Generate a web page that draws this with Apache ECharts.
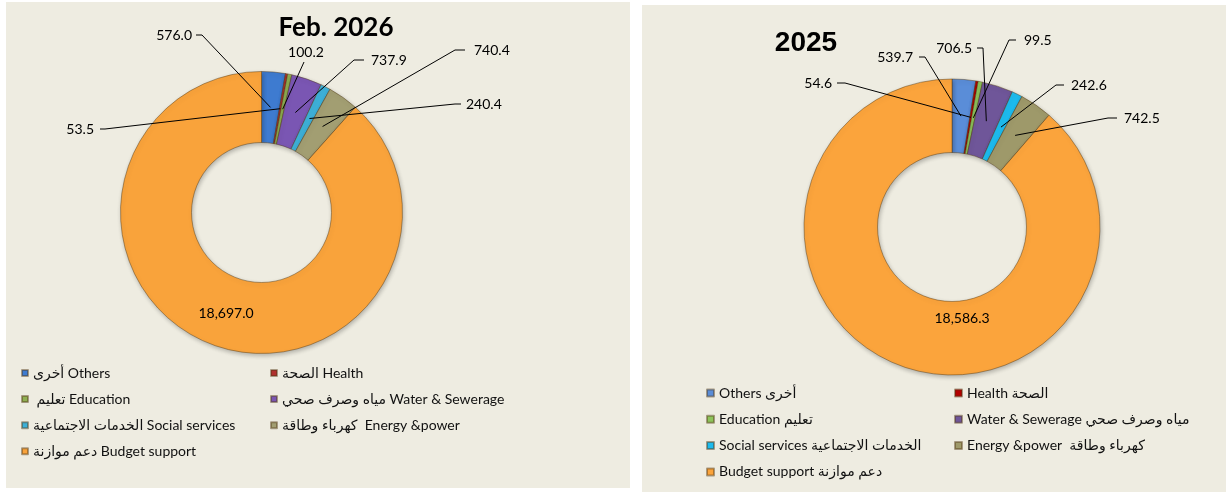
<!DOCTYPE html>
<html>
<head>
<meta charset="utf-8">
<script src="https://cdn.jsdelivr.net/npm/echarts@6/dist/echarts.min.js"></script>
<style>
  html, body { margin: 0; padding: 0; background: #ffffff; }
  #chart { width: 1226px; height: 492px; }
</style>
</head>
<body>
<div id="chart"></div>
<script>
// Spending sectors, in clockwise order starting at 12 o'clock
const namesFeb2026 = [
  'أخرى Others',
  'الصحة Health',
  ' تعليم Education',
  'مياه وصرف صحي Water & Sewerage',
  'الخدمات الاجتماعية Social services',
  'كهرباء وطاقة  Energy &power',
  'دعم موازنة Budget support'
];
const names2025 = [
  'Others أخرى',
  'Health الصحة',
  'Education تعليم',
  'Water & Sewerage مياه وصرف صحي',
  'Social services الخدمات الاجتماعية',
  'Energy &power  كهرباء وطاقة',
  'Budget support دعم موازنة'
];
const valuesFeb2026 = [576.0, 53.5, 100.2, 737.9, 240.4, 740.4, 18697.0];
const values2025 = [539.7, 54.6, 99.5, 706.5, 242.6, 742.5, 18586.3];
const titleFeb2026 = 'Feb. 2026';
const title2025 = '2025';

// Slice colours
const coloursFeb2026 = ['#3E7BD0', '#B0302E', '#8FAF52', '#7A56B3', '#3DB0D8', '#A29E72', '#F9A33B'];
const colours2025 = ['#5A8DD8', '#B40000', '#8EC45C', '#6F5699', '#1DBBEE', '#9E996A', '#FBA43C'];

// Ring geometry (px)
const ringFeb2026 = { cx: 261.5, cy: 212.5, r0: 70, r: 141 };
const ring2025 = { cx: 952, cy: 227, r0: 74.5, r: 148 };

// Callout placement: label anchor and the elbow of each leader line
const calloutsFeb2026 = [
  { x: 192, y: 35, align: 'right', bend: [[202, 35], [196, 35]] },
  { x: 94, y: 129, align: 'right', bend: [[105, 129], [100, 129]] },
  { x: 306, y: 52, align: 'center', bend: [[304, 62]] },
  { x: 371, y: 60, align: 'left', bend: [[354, 60], [364, 60]] },
  { x: 466, y: 104, align: 'left', bend: [[455, 104], [461, 104]] },
  { x: 474, y: 50, align: 'left', bend: [[455, 50], [465, 50]] },
  { x: 226, y: 313, align: 'center' }
];
const callouts2025 = [
  { x: 913, y: 57, align: 'right', bend: [[925, 57], [919, 57]] },
  { x: 832, y: 83, align: 'right', bend: [[845, 83], [837, 83]] },
  { x: 1024, y: 40, align: 'left', bend: [[1009, 40], [1016, 40]] },
  { x: 972, y: 48, align: 'right', bend: [[983, 48], [977, 48]] },
  { x: 1071, y: 85, align: 'left', bend: [[1056, 85], [1064, 85]] },
  { x: 1124, y: 118, align: 'left', bend: [[1108, 118], [1117, 118]] },
  { x: 962, y: 318, align: 'center' }
];

const FONT = 'Lato, "DejaVu Sans", sans-serif';
const fmt = v => v.toLocaleString('en-US', { minimumFractionDigits: 1, maximumFractionDigits: 1 });

// Point in the middle of the ring at a slice's mid angle
function sliceAnchor(values, ring, i) {
  const total = values.reduce((a, b) => a + b, 0);
  const before = values.slice(0, i).reduce((a, b) => a + b, 0);
  const mid = (before + values[i] / 2) / total * Math.PI * 2;
  const rm = (ring.r0 + ring.r) / 2;
  return [ring.cx + rm * Math.sin(mid), ring.cy - rm * Math.cos(mid)];
}

function calloutLayout(callouts) {
  return function (p) {
    const c = callouts[p.dataIndex];
    return { x: c.x, y: c.y, align: c.align, verticalAlign: 'middle' };
  };
}

// Leader lines from inside each slice to its value label
function leaderLines(values, ring, callouts) {
  const lines = [];
  callouts.forEach((c, i) => {
    if (!c.bend) return;
    lines.push({
      type: 'polyline',
      z: 100,
      silent: true,
      shape: { points: [sliceAnchor(values, ring, i)].concat(c.bend) },
      style: { stroke: '#000', lineWidth: 1, fill: null }
    });
  });
  return lines;
}

function donut(names, values, colours, ring, callouts) {
  return {
    type: 'pie',
    center: [ring.cx, ring.cy],
    radius: [ring.r0, ring.r],
    startAngle: 90,
    clockwise: true,
    avoidLabelOverlap: false,
    animation: false,
    silent: true,
    itemStyle: {
      borderColor: 'rgba(80,55,20,0.45)',
      borderWidth: 1,
      shadowBlur: 4,
      shadowOffsetX: 1,
      shadowOffsetY: 2,
      shadowColor: 'rgba(0,0,0,0.25)'
    },
    label: {
      show: true,
      position: 'outside',
      formatter: p => fmt(p.value),
      fontFamily: FONT,
      fontSize: 14,
      color: '#000'
    },
    labelLine: { show: false },
    labelLayout: calloutLayout(callouts),
    data: names.map((n, i) => {
      const item = { name: n, value: values[i], itemStyle: { color: colours[i] } };
      if (!callouts[i].bend) item.label = { position: 'inside' };
      return item;
    })
  };
}

function legendColumn(names, idx, left, top, gap, size) {
  return {
    data: idx.map(i => names[i]),
    orient: 'vertical',
    left: left,
    top: top,
    padding: 0,
    itemGap: gap,
    itemWidth: size,
    itemHeight: size,
    icon: 'rect',
    selectedMode: false,
    textStyle: { fontFamily: FONT, fontSize: 14, lineHeight: 16, color: '#111' }
  };
}

const chart = echarts.init(document.getElementById('chart'), null, { renderer: 'canvas' });
chart.setOption({
  backgroundColor: '#ffffff',
  animation: false,
  graphic: [
    { type: 'rect', z: -10, silent: true, shape: { x: 6, y: 2, width: 624, height: 486 }, style: { fill: '#EEECE1' } },
    { type: 'rect', z: -10, silent: true, shape: { x: 642, y: 5, width: 584, height: 487 }, style: { fill: '#EEECE1' } }
  ].concat(
    leaderLines(valuesFeb2026, ringFeb2026, calloutsFeb2026),
    leaderLines(values2025, ring2025, callouts2025)
  ),
  title: [
    {
      text: titleFeb2026, left: 336, top: 15, textAlign: 'center', padding: 0,
      textStyle: { fontFamily: 'Lato, sans-serif', fontWeight: 'bold', fontSize: 26, color: '#000' }
    },
    {
      text: title2025, left: 806, top: 29, textAlign: 'center', padding: 0,
      textStyle: { fontFamily: '"Liberation Sans", Arial, sans-serif', fontWeight: 'bold', fontSize: 28, color: '#000' }
    }
  ],
  legend: [
    legendColumn(namesFeb2026, [0, 2, 4, 6], 21, 365, 10.1, 6),
    legendColumn(namesFeb2026, [1, 3, 5], 270, 365, 10.1, 6),
    legendColumn(names2025, [0, 2, 4, 6], 706, 385, 10.3, 7),
    legendColumn(names2025, [1, 3, 5], 954, 385, 10.3, 7)
  ],
  series: [
    donut(namesFeb2026, valuesFeb2026, coloursFeb2026, ringFeb2026, calloutsFeb2026),
    donut(names2025, values2025, colours2025, ring2025, callouts2025)
  ]
});
</script>
</body>
</html>
